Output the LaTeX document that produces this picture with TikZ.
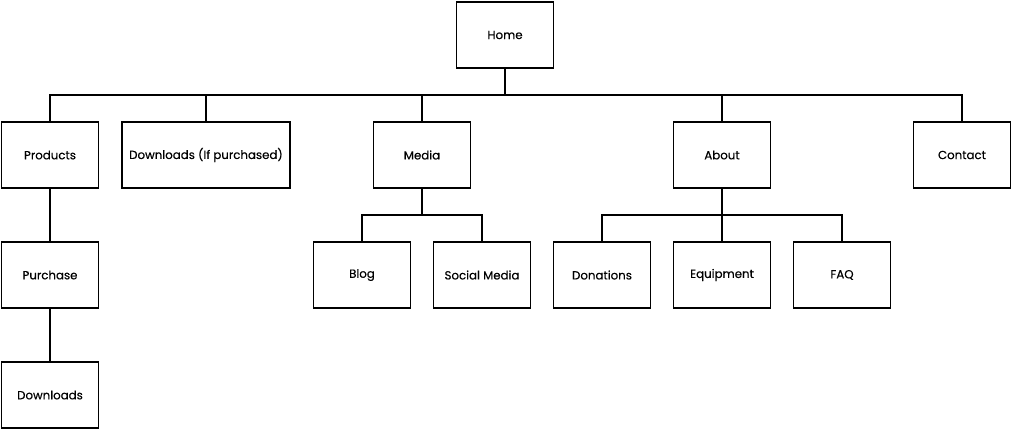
\documentclass[tikz,border=0pt]{standalone}
\usepackage{fontspec}
\setmainfont{Poppins}
\newfontfamily\lbl{Poppins}[FakeBold=0.35]
\begin{document}
\begin{tikzpicture}[x=1pt,y=-1pt,
  page/.style={draw=black,fill=white,line width=1.6pt,minimum width=97pt,minimum height=66pt,inner sep=0pt,font=\lbl\fontsize{11.8}{13}\selectfont},
  link/.style={draw=black,line width=1.6pt}]
\useasboundingbox (0,0) rectangle (1012,430);
\node[page] (home) at (505,35) {Home};
\node[page] (products) at (50,155) {Products};
\node[page,minimum width=168pt] (dlp) at (206,155) {Downloads (If purchased)};
\node[page] (media) at (422,155) {Media};
\node[page] (about) at (722,155) {About};
\node[page] (contact) at (962,155) {Contact};
\node[page] (purchase) at (50,275) {Purchase};
\node[page] (downloads) at (50,395) {Downloads};
\node[page] (blog) at (362,275) {Blog};
\node[page] (social) at (482,275) {Social Media};
\node[page] (donations) at (602,275) {Donations};
\node[page] (equipment) at (722,275) {Equipment};
\node[page] (faq) at (842,275) {FAQ};
\coordinate (hb) at (505,95);
\coordinate (mb) at (422,215);
\coordinate (ab) at (722,215);
\draw[link] (home.south) -- (hb);
\draw[link] (hb) -| (products.north);
\draw[link] (hb) -| (dlp.north);
\draw[link] (hb) -| (media.north);
\draw[link] (hb) -| (about.north);
\draw[link] (hb) -| (contact.north);
\draw[link] (products.south) -- (purchase.north);
\draw[link] (purchase.south) -- (downloads.north);
\draw[link] (media.south) -- (mb);
\draw[link] (mb) -| (blog.north);
\draw[link] (mb) -| (social.north);
\draw[link] (about.south) -- (ab);
\draw[link] (ab) -| (donations.north);
\draw[link] (ab) -| (equipment.north);
\draw[link] (ab) -| (faq.north);
\end{tikzpicture}
\end{document}
